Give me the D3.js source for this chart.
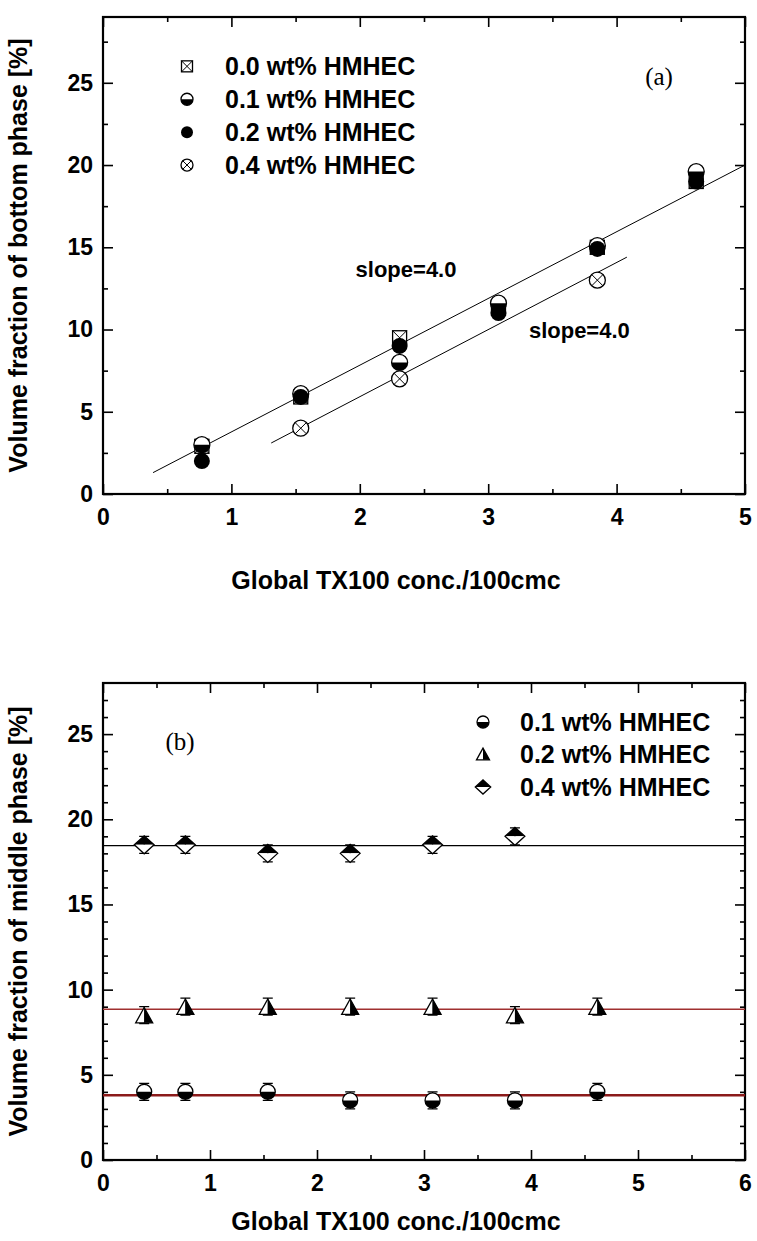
<!DOCTYPE html>
<html><head><meta charset="utf-8">
<script src="https://cdn.jsdelivr.net/npm/d3@7"></script>
<style>
body{margin:0;background:#fff}
text{font-family:"Liberation Sans",Arial,sans-serif;font-weight:bold;fill:#000}
.serif{font-family:"Liberation Serif","Times New Roman",serif;font-weight:normal}
</style>
</head><body><svg id="c" width="757" height="1241"></svg>
<script>
// ---------- data: panel (a) ----------
const xA   = [0.77, 1.54, 2.31, 3.08, 3.85, 4.62];
const a00  = [2.9, 5.9, 9.5, 11.3, 15.0, 19.0];
const a01  = [3.0, 6.1, 8.0, 11.6, 15.1, 19.6];
const a02  = [2.0, 5.9, 9.0, 11.0, 14.9, 19.0];
const xA04 = [1.54, 2.31, 3.85];
const a04  = [4.0, 7.0, 13.0];
const fit1X = [0.39, 5.0], fit1Y = [1.3, 20.0];
const fit2X = [1.31, 4.08], fit2Y = [3.1, 14.4];
const legendA = ["0.0 wt% HMHEC", "0.1 wt% HMHEC", "0.2 wt% HMHEC", "0.4 wt% HMHEC"];
const legendAy = [26, 24, 22, 20];
const slopeLabels = ["slope=4.0", "slope=4.0"];
const slopeX = [2.36, 3.71], slopeY = [13.7, 10.0];
// ---------- data: panel (b) ----------
const xB   = [0.385, 0.77, 1.54, 2.31, 3.08, 3.85, 4.62];
const b01  = [4.0, 4.0, 4.0, 3.5, 3.5, 3.5, 4.0];
const b02  = [8.5, 9.0, 9.0, 9.0, 9.0, 8.5, 9.0];
const xB04 = [0.385, 0.77, 1.54, 2.31, 3.08, 3.85];
const b04  = [18.5, 18.5, 18.0, 18.0, 18.5, 19.0];
const errB = 0.5;
const meanB = [3.8, 8.85, 18.45];
const legendB = ["0.1 wt% HMHEC", "0.2 wt% HMHEC", "0.4 wt% HMHEC"];
// ---------- ticks ----------
const ticksAX = [0, 1, 2, 3, 4, 5];
const minorAX = [0.5, 1.5, 2.5, 3.5, 4.5];
const ticksAY = [0, 5, 10, 15, 20, 25];
const minorAY = [2.5, 7.5, 12.5, 17.5, 22.5, 27.5];
const ticksBX = [0, 1, 2, 3, 4, 5, 6];
const minorBX = [0.5, 1.5, 2.5, 3.5, 4.5, 5.5];
const ticksBY = [0, 5, 10, 15, 20, 25];
const minorBY = [1,2,3,4,6,7,8,9,11,12,13,14,16,17,18,19,21,22,23,24,26,27];
const xTitle = "Global TX100 conc./100cmc";
const yTitleA = "Volume fraction of bottom phase [%]";
const yTitleB = "Volume fraction of middle phase [%]";

const svg = d3.select("#c");
const L = 103, R = 745;

function marker(g, type, cx, cy, s) {
  const r = s / 2;
  const G = g.append("g").attr("transform", `translate(${cx},${cy})`);
  const sw = 1.3;
  if (type === "sqx") {
    G.append("rect").attr("x", -r).attr("y", -r).attr("width", s).attr("height", s)
      .attr("fill", "#fff").attr("stroke", "#000").attr("stroke-width", sw);
    G.append("path").attr("d", `M${-r},${-r}L${r},${r}M${r},${-r}L${-r},${r}`)
      .attr("stroke", "#000").attr("stroke-width", 1);
  } else if (type === "half") {
    G.append("circle").attr("r", r).attr("fill", "#fff").attr("stroke", "#000").attr("stroke-width", sw);
    G.append("path").attr("d", `M${-r},0A${r},${r} 0 0 0 ${r},0Z`).attr("fill", "#000");
  } else if (type === "fill") {
    G.append("circle").attr("r", r).attr("fill", "#000");
  } else if (type === "cx") {
    const k = r * 0.7071;
    G.append("circle").attr("r", r).attr("fill", "#fff").attr("stroke", "#000").attr("stroke-width", sw);
    G.append("path").attr("d", `M${-k},${-k}L${k},${k}M${k},${-k}L${-k},${k}`)
      .attr("stroke", "#000").attr("stroke-width", 1);
  } else if (type === "tri") {
    const w = s, h = s * 0.9;
    G.append("path").attr("d", `M0,${-h/2}L${-w/2},${h/2}L0,${h/2}Z`).attr("fill", "#fff");
    G.append("path").attr("d", `M0,${-h/2}L${w/2},${h/2}L0,${h/2}Z`).attr("fill", "#000");
    G.append("path").attr("d", `M0,${-h/2}L${-w/2},${h/2}L${w/2},${h/2}Z`)
      .attr("fill", "none").attr("stroke", "#000").attr("stroke-width", sw);
  } else if (type === "dia") {
    const w = s * 1.1, h = s;
    G.append("path").attr("d", `M${-w/2},0L0,${-h/2}L${w/2},0Z`).attr("fill", "#000");
    G.append("path").attr("d", `M${-w/2},0L0,${h/2}L${w/2},0Z`).attr("fill", "#fff");
    G.append("path").attr("d", `M${-w/2},0L0,${-h/2}L${w/2},0L0,${h/2}Z`)
      .attr("fill", "none").attr("stroke", "#000").attr("stroke-width", sw);
  }
}

function frame(x, y, T, B, tx, mx, ty, my) {
  const g = svg.append("g");
  const fs = 23;
  const style = sel => { sel.select(".domain").remove(); sel.selectAll("line").attr("stroke-width", 1.6);
    sel.selectAll("text").attr("font-size", fs).attr("font-family", "Liberation Sans, Arial").attr("font-weight", "bold"); };
  g.append("g").attr("transform", `translate(0,${B})`)
    .call(d3.axisBottom(x).tickValues(tx).tickSize(-10).tickPadding(15).tickFormat(d3.format("d"))).call(style);
  g.append("g").attr("transform", `translate(0,${B})`)
    .call(d3.axisBottom(x).tickValues(mx).tickSize(-5).tickFormat("")).call(style);
  g.append("g").attr("transform", `translate(0,${T})`)
    .call(d3.axisTop(x).tickValues(tx).tickSize(-10).tickFormat("")).call(style);
  g.append("g").attr("transform", `translate(0,${T})`)
    .call(d3.axisTop(x).tickValues(mx).tickSize(-5).tickFormat("")).call(style);
  g.append("g").attr("transform", `translate(${L},0)`)
    .call(d3.axisLeft(y).tickValues(ty).tickSize(-10).tickPadding(10).tickFormat(d3.format("d"))).call(style);
  g.append("g").attr("transform", `translate(${L},0)`)
    .call(d3.axisLeft(y).tickValues(my).tickSize(-5).tickFormat("")).call(style);
  g.append("g").attr("transform", `translate(${R},0)`)
    .call(d3.axisRight(y).tickValues(ty).tickSize(-10).tickFormat("")).call(style);
  g.append("g").attr("transform", `translate(${R},0)`)
    .call(d3.axisRight(y).tickValues(my).tickSize(-5).tickFormat("")).call(style);
  g.append("rect").attr("x", L).attr("y", T).attr("width", R - L).attr("height", B - T)
    .attr("fill", "none").attr("stroke", "#000").attr("stroke-width", 2.2);
}

// ================= Panel (a) =================
{
  const T = 17, B = 494;
  const x = d3.scaleLinear([0, 5], [L, R]);
  const y = d3.scaleLinear([0, 29], [B, T]);
  frame(x, y, T, B, ticksAX, minorAX, ticksAY, minorAY);
  const line = d3.line().x(d => x(d[0])).y(d => y(d[1]));
  svg.append("path").attr("d", line(d3.zip(fit1X, fit1Y))).attr("stroke", "#000").attr("stroke-width", 1).attr("fill", "none");
  svg.append("path").attr("d", line(d3.zip(fit2X, fit2Y))).attr("stroke", "#000").attr("stroke-width", 1).attr("fill", "none");
  const g = svg.append("g");
  const S = 16;
  xA.forEach((v, i) => marker(g, "sqx", x(v), y(a00[i]), 14));
  xA.forEach((v, i) => marker(g, "half", x(v), y(a01[i]), S));
  xA.forEach((v, i) => marker(g, "fill", x(v), y(a02[i]), S));
  xA04.forEach((v, i) => marker(g, "cx", x(v), y(a04[i]), S));
  const types = ["sqx", "half", "fill", "cx"];
  const lsz = [11, 12, 12, 12];
  legendA.forEach((t, i) => {
    marker(g, types[i], 187, y(legendAy[i]), lsz[i]);
    g.append("text").attr("x", 225).attr("y", y(legendAy[i]) + 9).attr("font-size", 25).text(t);
  });
  slopeLabels.forEach((t, i) => {
    g.append("text").attr("x", x(slopeX[i])).attr("y", y(slopeY[i]) + 8).attr("text-anchor", "middle")
      .attr("font-size", 22).text(t);
  });
  g.append("text").attr("class", "serif").attr("x", 659).attr("y", 85).attr("text-anchor", "middle")
    .attr("font-size", 25).text("(a)");
  g.append("text").attr("x", 396).attr("y", 589).attr("text-anchor", "middle").attr("font-size", 25).text(xTitle);
  g.append("text").attr("transform", `translate(27,${(T + B) / 2}) rotate(-90)`).attr("text-anchor", "middle")
    .attr("font-size", 25).text(yTitleA);
}

// ================= Panel (b) =================
{
  const T = 683, B = 1160;
  const x = d3.scaleLinear([0, 6], [L, R]);
  const y = d3.scaleLinear([0, 28], [B, T]);
  frame(x, y, T, B, ticksBX, minorBX, ticksBY, minorBY);
  const colors = ["#8b1a1a", "#a03030", "#000"];
  const widths = [2.5, 1.3, 1.2];
  meanB.forEach((m, i) => {
    svg.append("line").attr("x1", L).attr("x2", R).attr("y1", y(m)).attr("y2", y(m))
      .attr("stroke", colors[i]).attr("stroke-width", widths[i]);
  });
  const g = svg.append("g");
  function errbars(xs, ys) {
    xs.forEach((v, i) => {
      const cx = x(v), y1 = y(ys[i] - errB), y2 = y(ys[i] + errB);
      g.append("path").attr("d", `M${cx},${y1}V${y2}M${cx - 5},${y1}H${cx + 5}M${cx - 5},${y2}H${cx + 5}`)
        .attr("stroke", "#000").attr("stroke-width", 1.2).attr("fill", "none");
    });
  }
  errbars(xB, b01); errbars(xB, b02); errbars(xB04, b04);
  xB.forEach((v, i) => marker(g, "half", x(v), y(b01[i]), 15));
  xB.forEach((v, i) => marker(g, "tri", x(v), y(b02[i]), 17));
  xB04.forEach((v, i) => marker(g, "dia", x(v), y(b04[i]), 18));
  const types = ["half", "tri", "dia"];
  const lsz = [12, 13, 14];
  const ly = [722, 754, 787];
  legendB.forEach((t, i) => {
    marker(g, types[i], 483, ly[i], lsz[i]);
    g.append("text").attr("x", 520).attr("y", ly[i] + 9).attr("font-size", 25).text(t);
  });
  g.append("text").attr("class", "serif").attr("x", 180).attr("y", 750).attr("text-anchor", "middle")
    .attr("font-size", 25).text("(b)");
  g.append("text").attr("x", 396).attr("y", 1230).attr("text-anchor", "middle").attr("font-size", 25).text(xTitle);
  g.append("text").attr("transform", `translate(27,${(T + B) / 2}) rotate(-90)`).attr("text-anchor", "middle")
    .attr("font-size", 25).text(yTitleB);
}
</script></body></html>
